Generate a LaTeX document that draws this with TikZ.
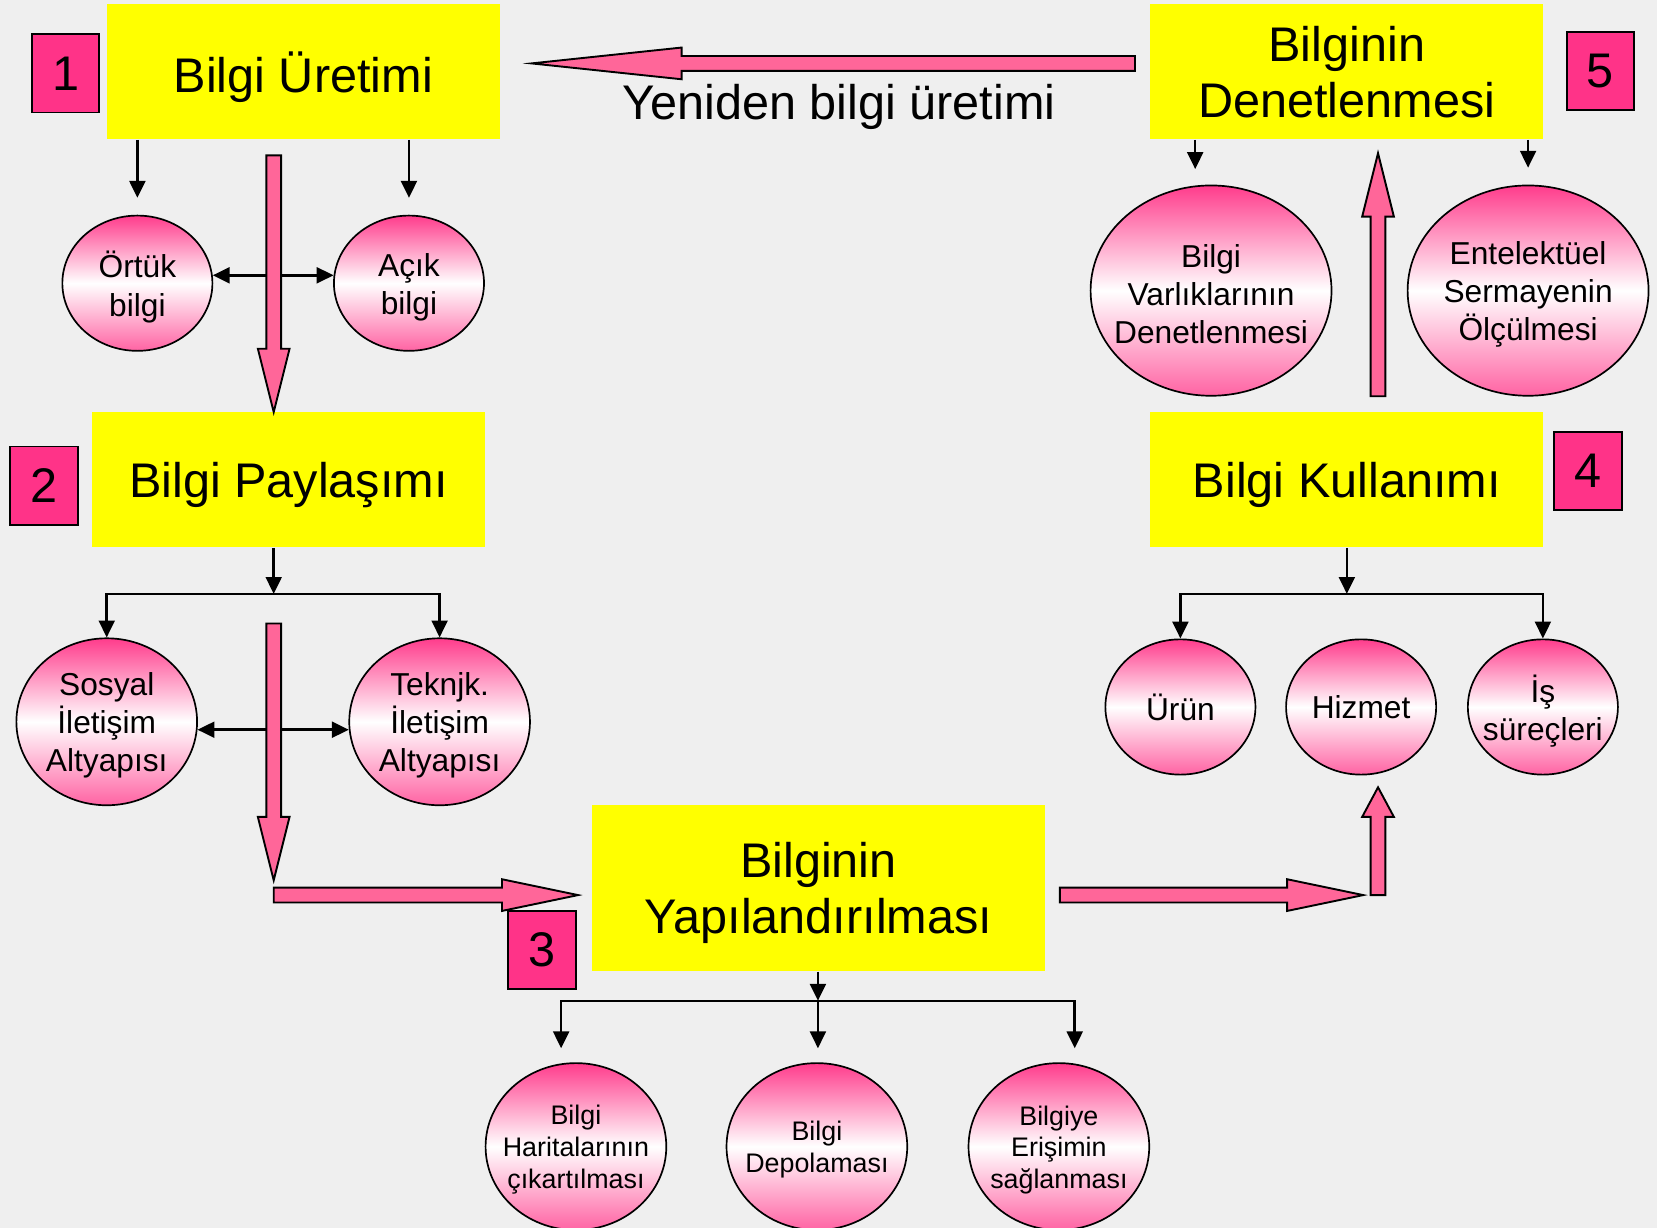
\documentclass[tikz,border=0pt]{standalone}
\usepackage{fontspec}
\setmainfont{Liberation Sans}
\usetikzlibrary{shapes, positioning, arrows.meta, calc}

\definecolor{boxyellow}{HTML}{FFFF00}
\definecolor{numpink}{HTML}{FF3388}
\definecolor{arrowpink}{HTML}{FF6699}
\definecolor{bubpink}{HTML}{FF3C8C}
\definecolor{bgray}{HTML}{EFEFEF}

\newcommand{\bigfont}{\fontsize{23}{26.5}\selectfont}
\newcommand{\midfont}{\fontsize{15}{18}\selectfont}
\newcommand{\smallfont}{\fontsize{12.7}{15}\selectfont}

% pink block arrow: start, tip, head length
\newcommand{\bigarrow}[3]{%
  \draw[blockarr] let \p1=(#1), \p2=(#2),
      \n1={veclen(\x2-\x1,\y2-\y1)}, \n2={atan2(\y2-\y1,\x2-\x1)} in
    [shift={(\p1)}, rotate=\n2]
    (0pt,3.5pt) -- (\n1-#3,3.5pt) -- (\n1-#3,7.5pt) -- (\n1,0pt)
    -- (\n1-#3,-7.5pt) -- (\n1-#3,-3.5pt) -- (0pt,-3.5pt) -- cycle;}

\begin{document}
\begin{tikzpicture}[x=0.5pt, y=-0.5pt,
    ybox/.style={rectangle, fill=boxyellow, inner sep=0pt, minimum width=186pt, minimum height=64pt, align=center, font=\bigfont, text depth=0pt},
    numbox/.style={rectangle, fill=numpink, draw=black, line width=0.9pt, minimum width=32pt, minimum height=37pt, inner sep=0pt, font=\bigfont},
    bubble/.style={ellipse, draw=black, line width=0.8pt, top color=bubpink, bottom color=bubpink!80, middle color=white, inner sep=0pt},
    smallbub/.style={bubble, minimum width=71pt, minimum height=64pt},
    midbub/.style={bubble, minimum width=85.5pt, minimum height=79pt},
    bigbub/.style={bubble, minimum width=114pt, minimum height=99.5pt},
    onetext/.style={align=center, inner sep=0pt, font=\midfont},
    btext/.style={onetext, yshift=-1.8pt},
    stext/.style={align=center, inner sep=0pt, font=\smallfont, yshift=-1.5pt},
    arr/.style={-{Triangle[length=8pt,width=7.5pt]}, line width=1.2pt},
    darr/.style={{Triangle[length=8pt,width=7.5pt]}-{Triangle[length=8pt,width=7.5pt]}, line width=1.2pt},
    blockarr/.style={fill=arrowpink, draw=black, line width=0.9pt, line join=miter}]

    \useasboundingbox (0,0) rectangle (1568,1162);
    \fill[bgray] (0,0) rectangle (1568,1162);

    % main steps
    \node[ybox] (uretim) at (287,68) {Bilgi Üretimi};
    \node[ybox] (paylasim) at (273,454) {Bilgi Paylaşımı};
    \node[ybox, minimum width=214.5pt, minimum height=78.5pt] (yapi) at (774.5,840.5) {Bilginin\\Yapılandırılması};
    \node[ybox] (kullanim) at (1274.5,454) {Bilgi Kullanımı};
    \node[ybox] (denetim) at (1274.5,68) {Bilginin\\Denetlenmesi};

    \node[numbox] (n1) at (62,69.5) {1};
    \node[numbox] (n2) at (41.5,459.5) {2};
    \node[numbox] (n3) at (513,899) {3};
    \node[numbox] (n4) at (1502.5,445.5) {4};
    \node[numbox] (n5) at (1514.5,67) {5};

    \node[font=\bigfont] (yeniden) at (794,101) {Yeniden bilgi üretimi};

    % bubbles
    \node[smallbub, label={[btext]center:Örtük\\bilgi}] (ortuk) at (130,268) {};
    \node[smallbub, label={[btext]center:Açık\\bilgi}] (acik) at (387,268) {};
    \node[midbub, label={[btext]center:Sosyal\\İletişim\\Altyapısı}] (sosyal) at (101,683) {};
    \node[midbub, label={[btext]center:Teknjk.\\İletişim\\Altyapısı}] (teknik) at (416,683) {};
    \node[midbub, label={[stext]center:Bilgi\\Haritalarının\\çıkartılması}] (harita) at (545,1085) {};
    \node[midbub, label={[stext]center:Bilgi\\Depolaması}] (depo) at (773,1085) {};
    \node[midbub, label={[stext]center:Bilgiye\\Erişimin\\sağlanması}] (erisim) at (1002,1085) {};
    \node[smallbub, label={[onetext]center:Ürün}] (urun) at (1117,669) {};
    \node[smallbub, label={[onetext]center:Hizmet}] (hizmet) at (1288,669) {};
    \node[smallbub, label={[btext]center:İş\\süreçleri}] (surec) at (1460,669) {};
    \node[bigbub, label={[btext]center:Bilgi\\Varlıklarının\\Denetlenmesi}] (varlik) at (1146,275) {};
    \node[bigbub, label={[btext]center:Entelektüel\\Sermayenin\\Ölçülmesi}] (entel) at (1446,275) {};

    % thin arrows
    \draw[arr, shorten >=8pt] (uretim.south -| ortuk) -- (ortuk.north);
    \draw[arr, shorten >=8pt] (uretim.south -| acik) -- (acik.north);
    \draw[darr] (ortuk.6) -- (acik.174);

    \coordinate (split2) at (259,562);
    \draw[arr] (paylasim.south -| split2) -- (split2);
    \draw[arr] (split2) -| (sosyal.north);
    \draw[arr] (split2) -| (teknik.north);
    \draw[darr] (sosyal.-5) -- (teknik.-175);

    \coordinate (split3) at (774,947);
    \coordinate (h3) at (531,992);
    \coordinate (d3) at (774,992);
    \coordinate (e3) at (1017,992);
    \draw[arr] (yapi.south -| split3) -- (split3);
    \draw[arr] (split3) -| (h3);
    \draw[arr] (split3) -- (d3);
    \draw[arr] (split3) -| (e3);

    \coordinate (split4) at (1274.5,562);
    \draw[arr] (kullanim.south) -- (split4);
    \draw[arr] (split4) -| (urun.north);
    \draw[arr] (split4) -| (surec.north);

    \coordinate (vtop) at (1131,176);
    \draw[arr, shorten >=8pt] (denetim.south -| vtop) -- (vtop);
    \draw[arr, shorten >=8pt] (denetim.south -| entel) -- (entel.north);

    % pink block arrows
    \coordinate (b1s) at (259,147);  \coordinate (b1t) at (259,390);
    \coordinate (b2s) at (259,590);  \coordinate (b2t) at (259,833);
    \coordinate (b3s) at (259,847);  \coordinate (b3t) at (547,847);
    \coordinate (b4s) at (1003,847); \coordinate (b4t) at (1290,847);
    \coordinate (b5s) at (1304,847); \coordinate (b5t) at (1304,745);
    \coordinate (b6s) at (1304,375); \coordinate (b6t) at (1304,145);
    \coordinate (b7s) at (1074,60);  \coordinate (b7t) at (503,60);
    \bigarrow{b1s}{b1t}{30pt}
    \bigarrow{b2s}{b2t}{30pt}
    \bigarrow{b3s}{b3t}{36pt}
    \bigarrow{b4s}{b4t}{36pt}
    \bigarrow{b5s}{b5t}{14pt}
    \bigarrow{b6s}{b6t}{30pt}
    \bigarrow{b7s}{b7t}{71pt}
\end{tikzpicture}
\end{document}
